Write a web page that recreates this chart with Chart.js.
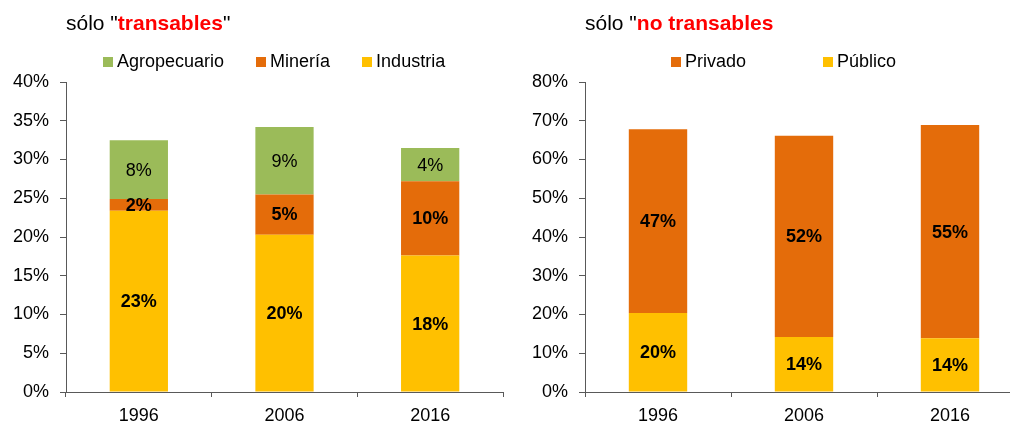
<!DOCTYPE html>
<html>
<head>
<meta charset="utf-8">
<script src="https://cdn.jsdelivr.net/npm/chart.js@4.4.0/dist/chart.umd.min.js"></script>
<style>
  html, body { margin: 0; background: #fff; overflow: hidden; font-family: "Liberation Sans", Arial, sans-serif; }
  .panel { position: absolute; top: 0; height: 423px; }
  .title { position: absolute; top: 11px; font-size: 21px; color: #000; white-space: nowrap; }
  .title b { color: #ff0000; }
  .legend { position: absolute; top: 51px; display: flex; font-size: 18px; color: #000; white-space: nowrap; }
  .legend span.item { display: flex; align-items: center; }
  .legend i { display: inline-block; width: 10px; height: 10px; margin-right: 4px; }
</style>
</head>
<body>
<div class="panel" style="left:0; width:505px">
  <div class="title" style="left:66px">sólo "<b>transables</b>"</div>
  <div class="legend" id="legendLeft" style="left:103px; gap:32px"></div>
  <canvas id="chartLeft" width="505" height="423"></canvas>
</div>
<div class="panel" style="left:505px; width:505px; overflow:hidden">
  <div class="title" style="left:80px">sólo "<b>no transables</b></div>
  <div class="legend" id="legendRight" style="left:166px; gap:77px"></div>
  <canvas id="chartRight" width="520" height="423"></canvas>
</div>
<script>
// Data
const years = ['1996', '2006', '2016'];

const industria = [23.4, 20.3, 17.6];
const mineria = [1.5, 5.2, 9.6];
const agropecuario = [7.6, 8.7, 4.3];

const publico = [20.4, 14.2, 13.9];
const privado = [47.4, 51.9, 55.0];

const leftTicks = [0, 5, 10, 15, 20, 25, 30, 35, 40];
const rightTicks = [0, 10, 20, 30, 40, 50, 60, 70, 80];

const GREEN = '#9bbb59';
const ORANGE = '#e46c0a';
const YELLOW = '#ffc000';
const AXIS = '#595959';
const FONT = '"Liberation Sans", Arial, sans-serif';

// Labels in the middle of each bar segment
const barLabels = {
    id: 'barLabels',
    afterDatasetsDraw(chart) {
        const ctx = chart.ctx;
        chart.data.datasets.forEach((ds, i) => {
            const meta = chart.getDatasetMeta(i);
            meta.data.forEach((bar, j) => {
                const p = bar.getProps(['x', 'y', 'base'], true);
                ctx.save();
                ctx.font = (ds.boldLabel ? 'bold ' : '') + '18px ' + FONT;
                ctx.fillStyle = '#000';
                ctx.textAlign = 'center';
                ctx.textBaseline = 'middle';
                ctx.fillText(Math.round(ds.data[j]) + '%', p.x, (p.y + p.base) / 2 + 1);
                ctx.restore();
            });
        });
    }
};

function makeChart(id, datasets, ticks, axisWidth, barPct) {
    const max = ticks[ticks.length - 1];
    return new Chart(document.getElementById(id), {
        type: 'bar',
        data: { labels: years, datasets: datasets },
        options: {
            responsive: false,
            animation: false,
            devicePixelRatio: 1,
            layout: { padding: { top: 82, right: 2, left: 0, bottom: 0 } },
            datasets: { bar: { categoryPercentage: 1, barPercentage: barPct } },
            plugins: { legend: { display: false }, tooltip: { enabled: false } },
            scales: {
                x: {
                    stacked: true,
                    grid: { drawOnChartArea: false, offset: true, tickLength: 5, color: AXIS },
                    border: { color: AXIS },
                    ticks: { color: '#000', font: { size: 18, family: FONT }, padding: 8 },
                    afterFit: s => { s.height = 31; }
                },
                y: {
                    stacked: true,
                    min: 0,
                    max: max,
                    afterBuildTicks: s => { s.ticks = ticks.map(v => ({ value: v })); },
                    grid: { drawOnChartArea: false, tickLength: 6, color: AXIS },
                    border: { color: AXIS },
                    ticks: {
                        color: '#000',
                        font: { size: 18, family: FONT },
                        padding: 11,
                        callback: v => v + '%'
                    },
                    afterFit: s => { s.width = axisWidth; }
                }
            }
        },
        plugins: [barLabels]
    });
}

const leftSets = [
    { label: 'Industria', data: industria, backgroundColor: YELLOW, boldLabel: true },
    { label: 'Minería', data: mineria, backgroundColor: ORANGE, boldLabel: true },
    { label: 'Agropecuario', data: agropecuario, backgroundColor: GREEN, boldLabel: false }
];
const rightSets = [
    { label: 'Público', data: publico, backgroundColor: YELLOW, boldLabel: true },
    { label: 'Privado', data: privado, backgroundColor: ORANGE, boldLabel: true }
];

makeChart('chartLeft', leftSets, leftTicks, 66, 0.4);
// right chart runs past the window edge, as in the original
makeChart('chartRight', rightSets, rightTicks, 80, 0.4);

// HTML legends, top series first
function buildLegend(elId, sets) {
    const el = document.getElementById(elId);
    sets.slice().reverse().forEach(ds => {
        const item = document.createElement('span');
        item.className = 'item';
        item.innerHTML = '<i style="background:' + ds.backgroundColor + '"></i>' + ds.label;
        el.appendChild(item);
    });
}
buildLegend('legendLeft', leftSets);
buildLegend('legendRight', rightSets);
</script>
</body>
</html>
